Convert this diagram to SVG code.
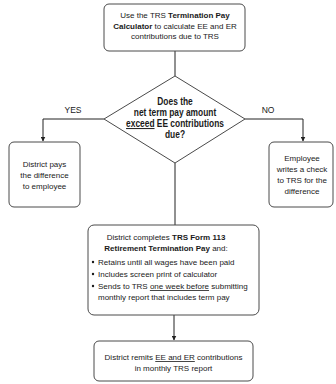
<svg xmlns="http://www.w3.org/2000/svg" width="336" height="384" viewBox="0 0 336 384">
<style>
.box{fill:#fff;stroke:#4a4a4a;stroke-width:1}
.t{font-family:"Liberation Sans",Arial,sans-serif;font-size:8px;fill:#1a1a1a}
.c{text-anchor:middle}
.b{font-weight:bold}
.u{text-decoration:underline}
.d{font-family:"Liberation Sans",Arial,sans-serif;font-size:10px;font-weight:bold;fill:#1a1a1a;text-anchor:middle}
.ln{fill:none;stroke:#222;stroke-width:1}
</style>
<defs>
<marker id="ah" viewBox="0 0 10 10" refX="9" refY="5" markerWidth="5" markerHeight="5" orient="auto" markerUnits="userSpaceOnUse">
<path d="M0,0 L10,5 L0,10 z" fill="#222"/>
</marker>
</defs>
<g id="connectors">
<line class="ln" x1="175" y1="51" x2="175" y2="76"/>
<polyline class="ln" points="104,119 43,119 43,141" marker-end="url(#ah)"/>
<polyline class="ln" points="245,119 303,119 303,141" marker-end="url(#ah)"/>
<line class="ln" x1="175" y1="163" x2="175" y2="225"/>
<line class="ln" x1="174" y1="315" x2="174" y2="340" marker-end="url(#ah)"/>
<text class="t c" x="73" y="113" style="font-size:8.5px">YES</text>
<text class="t c" x="268" y="113" style="font-size:8.5px">NO</text>
</g>
<g id="start">
<rect class="box" x="104" y="4" width="141" height="47" rx="5"/>
<text class="t c" x="175" y="18">Use the TRS <tspan class="b">Termination Pay</tspan></text>
<text class="t c" x="175" y="28.5"><tspan class="b">Calculator</tspan> to calculate EE and ER</text>
<text class="t c" x="175" y="39">contributions due to TRS</text>
</g>
<g id="decision">
<polygon class="box" points="175,76 245,119 175,163 104,119"/>
<g transform="translate(175,0) scale(0.84,1)">
<text class="d" x="0" y="105">Does the</text>
<text class="d" x="0" y="116">net term pay amount</text>
<text class="d" x="0" y="127"><tspan class="u">exceed</tspan> EE contributions</text>
<text class="d" x="0" y="138">due?</text>
</g>
</g>
<g id="yes">
<rect class="box" x="9" y="142" width="71" height="65" rx="5"/>
<text class="t c" x="44.5" y="166.5">District pays</text>
<text class="t c" x="44.5" y="177.5">the difference</text>
<text class="t c" x="44.5" y="188.5">to employee</text>
</g>
<g id="no">
<rect class="box" x="269" y="142" width="64" height="65" rx="5"/>
<text class="t c" x="302" y="161">Employee</text>
<text class="t c" x="302" y="172">writes a check</text>
<text class="t c" x="302" y="183">to TRS for the</text>
<text class="t c" x="302" y="194">difference</text>
</g>
<g id="form">
<rect class="box" x="88" y="225" width="171" height="90" rx="6"/>
<text class="t c" x="166" y="240">District completes <tspan class="b">TRS Form 113</tspan></text>
<text class="t c" x="166" y="251"><tspan class="b">Retirement Termination Pay</tspan> and:</text>
<circle cx="93" cy="262" r="1.2" fill="#1a1a1a"/>
<text class="t" x="98" y="265">Retains until all wages have been paid</text>
<circle cx="93" cy="274" r="1.2" fill="#1a1a1a"/>
<text class="t" x="98" y="277">Includes screen print of calculator</text>
<circle cx="93" cy="286" r="1.2" fill="#1a1a1a"/>
<text class="t" x="98" y="289">Sends to TRS <tspan class="u">one week before</tspan> submitting</text>
<text class="t" x="98" y="300">monthly report that includes term pay</text>
</g>
<g id="remit">
<rect class="box" x="94" y="341" width="159" height="40" rx="5"/>
<text class="t c" x="173.5" y="360">District remits <tspan class="u">EE and ER</tspan> contributions</text>
<text class="t c" x="173.5" y="371">in monthly TRS report</text>
</g>
</svg>
